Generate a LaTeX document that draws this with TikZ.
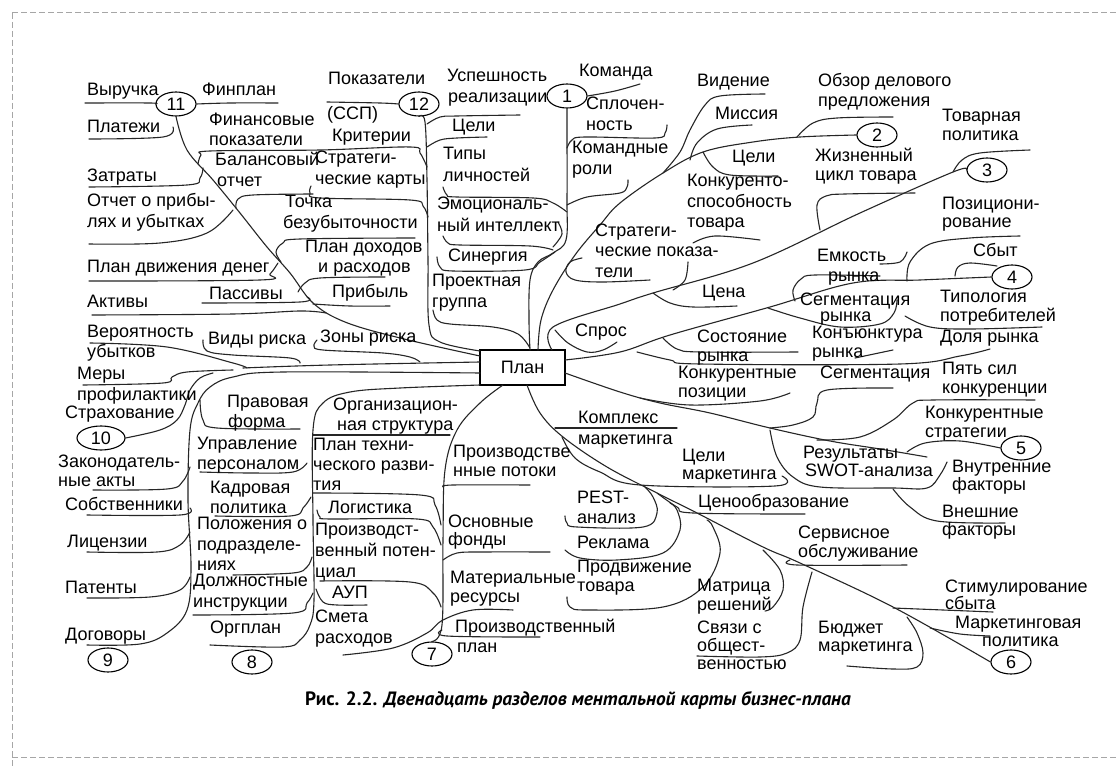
\documentclass[tikz,border=0pt]{standalone}
\usepackage{fontspec}
\setmainfont{Liberation Sans}
\newfontfamily\capfont{PT Sans}
\usetikzlibrary{shapes.geometric}
\newcounter{lbc}
\newcommand\lb[3]{\stepcounter{lbc}\node[lbl] (t\arabic{lbc}) at (#1,#2) {#3};}
\newcommand\cv[1]{\draw[ln] plot[smooth,tension=0.6] coordinates {#1};}
\begin{document}
\begin{tikzpicture}[x=1pt,y=-1pt,
  lbl/.style={anchor=base west,inner sep=0pt,font=\fontsize{18}{21}\selectfont},
  ln/.style={line width=1.1pt,line cap=round,line join=round,black!85},
  circ/.style={ellipse,draw,line width=1.1pt,minimum width=40pt,minimum height=24pt,inner sep=0pt,font=\fontsize{18}{21}\selectfont},
  frame/.style={gray!70,line width=1pt,dash pattern=on 6pt off 3pt}]
\useasboundingbox (0,0) rectangle (1117,767);
\fill[white] (0,0) rectangle (1117,767);
% frame
\draw[frame] (12,13) -- (1117,13);
\draw[frame] (12,13) -- (12,767);
\draw[frame] (12,757) -- (1117,757);

% central box and circles
\node[draw,line width=1.5pt,minimum width=85pt,minimum height=35pt,inner sep=0pt,font=\fontsize{18}{21}\selectfont] (plan) at (522.5,367.5) {План};
\node[circ] (c1) at (567,96) {1};
\node[circ] (c2) at (877,135) {2};
\node[circ] (c3) at (987,170) {3};
\node[circ] (c4) at (1012,277) {4};
\node[circ] (c5) at (1021,448) {5};
\node[circ] (c6) at (1011,662) {6};
\node[circ] (c7) at (432,654) {7};
\node[circ] (c8) at (252,662) {8};
\node[circ] (c9) at (108,660) {9};
\node[circ,minimum width=48pt] (c10) at (101,438) {10};
\node[circ] (c11) at (176,104) {11};
\node[circ] (c12) at (419,104) {12};

% ---------- trunks ----------
\cv{(c11.south) (187,150) (213,180) (240,213) (267,247) (290,273) (313,303) (345,322) (400,338) (480,356)}
\cv{(c12.south) (425,122) (427,180) (428,260) (429,325) (440,342) (480,351)}
\cv{(c1.south) (567,130) (567,200) (566,240) (553,253) (538,262) (530,280) (529,320) (530,350)}
\cv{(538,350) (541,320) (553,290) (575,255) (600,225) (620,203) (663,173) (703,152) (753,142) (800,137) (c2.west)}
\cv{(552,350) (553,327) (620,304) (653,293) (753,263) (860,213) (953,172) (c3.west)}
\cv{(565,360) (620,352) (670,335) (770,307) (853,283) (920,280) (c4.west)}
\cv{(565,373) (620,392) (660,403) (710,413) (770,428) (830,441) (880,449) (927,457)}
\cv{(527,385) (540,413) (563,437) (607,467) (657,493) (697,513) (763,547) (800,563) (893,607) (c6.west)}
\cv{(503,385) (480,403) (457,430) (445,470) (443,540) (442,625) (c7.north)}
\cv{(480,385) (400,388) (350,392) (323,403) (313,430) (313,520) (314,600) (310,625) (300,640) (283,647) (210,645)}
\cv{(480,373) (283,372) (233,377) (210,387) (198,403) (190,430) (188,500) (191,567) (187,610) (167,633) (140,644) (87,645)}
\cv{(480,362) (330,365) (243,368)}
\cv{(c10.east) (160,430) (177,420) (185,405) (190,390) (200,378) (213,373)}

% ---------- branch 11 ----------
\cv{(85,103) (150,103) (c11.west)}
\cv{(c11.east) (230,103) (278,103)}
\cv{(89,139) (163,137) (173,127)}
\cv{(198,164) (201,155) (210,151) (320,150) (410,147) (420,153) (427,167)}
\cv{(89,187) (187,185) (200,178) (203,168)}
\cv{(236,208) (238,199) (253,195) (313,194)}
\cv{(89,244) (160,243) (207,233) (233,210)}
\cv{(281,262) (276,252) (283,243) (300,239) (415,238)}
\cv{(89,281) (260,280) (270,274) (278,263)}
\cv{(298,292) (305,283) (320,278) (385,277)}
\cv{(313,304) (350,306) (390,306)}
\cv{(202,303) (300,302) (307,297)}
\cv{(92,315) (233,314) (300,311) (326,313)}

% ---------- branch 12 ----------
\cv{(327,102) (380,103) (c12.west)}
\cv{(427,124) (440,117) (457,116) (520,115)}
\cv{(427,147) (440,140) (457,138) (487,137)}
\cv{(428,217) (423,206) (410,200) (320,198) (310,193) (311,186)}

% ---------- branch 1 ----------
\cv{(c1.east) (615,91) (640,84)}
\cv{(567,148) (572,140) (585,137) (655,138) (665,133) (667,125)}
\cv{(567,205) (587,197) (620,193) (627,187) (628,180)}
\cv{(443,187) (447,195) (457,197) (533,198) (553,203) (567,212)}
\cv{(558,222) (562,234) (553,247)}
\cv{(443,236) (448,243) (460,245) (530,246) (553,250)}
\cv{(437,257) (440,267) (453,271) (525,270) (540,262) (555,252)}
\cv{(433,310) (437,320) (450,324) (493,327) (518,334) (530,348)}

% ---------- branch 2 / 3 ----------
\cv{(663,173) (680,152) (690,130) (705,105) (720,96) (765,94)}
\cv{(690,160) (697,143) (717,129) (752,125)}
\cv{(703,152) (713,167) (730,175) (778,176)}
\cv{(797,137) (813,123) (837,118) (893,117)}
\cv{(953,172) (962,160) (980,153) (1030,150)}
\cv{(820,230) (817,205) (826,196) (845,194) (915,193)}
\cv{(693,243) (715,236) (760,240)}
\cv{(582,258) (570,262) (566,272) (575,280) (603,282) (650,280)}
\cv{(688,262) (685,280) (673,290)}
\cv{(653,293) (670,303) (693,307) (737,306)}
\cv{(555,330) (568,343) (587,352) (603,350) (617,342)}

% ---------- branch 4 ----------
\cv{(907,281) (910,262) (930,244) (970,238) (1020,236)}
\cv{(955,276) (958,267) (970,263) (997,266)}
\cv{(795,301) (793,290) (801,279) (815,275) (880,276)}
\cv{(880,264) (900,262) (907,252)}
\cv{(768,308) (800,318) (840,327) (880,324) (894,313) (897,300)}
\cv{(905,316) (930,327) (970,329) (1042,327)}
\cv{(663,338) (677,349) (700,352) (798,352)}
\cv{(637,352) (670,360) (700,364) (900,364) (960,356) (990,349)}
\cv{(855,358) (893,350)}
\cv{(640,398) (690,405) (760,401) (790,393)}
\cv{(893,388) (827,390) (817,403) (813,417) (793,425) (770,428)}

% ---------- branch 5 ----------
\cv{(817,440) (860,437) (893,420) (913,403) (933,400) (1035,400)}
\cv{(907,452) (925,443) (960,441) (c5.west)}
\cv{(770,430) (777,457) (793,477) (820,487) (893,488) (927,488) (940,475) (947,462)}
\cv{(893,489) (910,507) (937,521) (1005,523)}
\cv{(562,437) (575,458) (600,472) (640,485) (775,486) (782,476)}
\cv{(555,428) (677,428)}
\cv{(657,493) (677,507) (693,513) (805,514)}
\cv{(790,560) (797,565) (907,565)}

% ---------- branch 6 ----------
\cv{(645,487) (653,497) (657,513) (643,527) (577,527) (567,523) (565,516)}
\cv{(670,503) (677,510) (680,530) (663,553) (617,560) (580,558) (565,550)}
\cv{(707,520) (713,527) (720,553) (703,587) (663,607) (587,610) (570,607) (567,597)}
\cv{(763,550) (780,570) (783,590) (773,607) (765,611)}
\cv{(812,572) (803,607) (800,640) (787,653) (760,657) (697,656)}
\cv{(907,617) (917,633) (923,653) (917,667) (893,669) (847,666)}
\cv{(893,608) (993,612)}
\cv{(930,628) (960,634) (990,636)}

% ---------- branch 7 ----------
\cv{(443,487) (453,485) (530,485)}
\cv{(443,560) (457,553) (483,552) (550,552)}
\cv{(343,655) (393,648) (427,633) (443,620) (473,610) (513,610)}
\cv{(442,630) (447,636) (540,637)}

% ---------- branch 8 ----------
\cv{(313,435) (450,435)}
\cv{(313,493) (420,495) (435,505) (441,525)}
\cv{(317,510) (320,517) (330,519) (417,519) (433,527) (441,545)}
\cv{(320,581) (410,582) (433,593) (441,607)}
\cv{(316,589) (323,602) (337,605) (367,605)}
\cv{(200,400) (203,420) (217,428) (300,429)}
\cv{(200,472) (250,473) (293,472) (307,463)}
\cv{(215,516) (290,516) (303,508) (311,497)}
\cv{(233,575) (293,573) (307,567) (312,557)}
\cv{(193,615) (293,613) (307,603) (313,593)}

% ---------- branch 9 / 10 ----------
\cv{(93,490) (167,489) (183,481) (190,467)}
\cv{(87,515) (180,515) (190,508)}
\cv{(87,552) (157,552) (180,545) (190,532)}
\cv{(87,598) (150,597) (180,590) (190,577)}
\cv{(90,343) (167,347) (233,363) (247,368)}
\cv{(203,340) (207,351) (233,355) (290,358) (300,363)}
\cv{(317,340) (314,346) (323,350) (383,353) (410,357) (420,362)}
\cv{(83,385) (163,383) (172,377) (187,372) (233,370)}

% ---------- labels ----------
% branch 11
\lb{87}{96}{Выручка}
\lb{202}{96}{Финплан}
\lb{87}{133}{Платежи}
\lb{209}{126}{Финансовые}
\lb{209}{146}{показатели}
\lb{215}{166}{Балансовый}
\lb{217}{187}{отчет}
\lb{87}{182}{Затраты}
\lb{87}{207}{Отчет о прибы-}
\lb{87}{228}{лях и убытках}
\lb{285}{208}{Точка}
\lb{283}{229}{безубыточности}
\lb{87}{273}{План движения денег}
\lb{305}{253}{План доходов}
\lb{318}{273}{и расходов}
\lb{332}{298}{Прибыль}
\lb{209}{300}{Пассивы}
\lb{87}{308}{Активы}
% branch 12
\lb{328}{85}{Показатели}
\lb{327}{120}{(ССП)}
\lb{332}{142}{Критерии}
\lb{315}{164}{Стратеги-}
\lb{315}{185}{ческие карты}
% branch 1
\lb{447}{82}{Успешность}
\lb{448}{103}{реализации}
\lb{579}{77}{Команда}
\lb{586}{110}{Сплочен-}
\lb{586}{131}{ность}
\lb{452}{132}{Цели}
\lb{443}{160}{Типы}
\lb{443}{182}{личностей}
\lb{572}{154}{Командные}
\lb{572}{175}{роли}
\lb{437}{210}{Эмоциональ-}
\lb{437}{232}{ный интеллект}
\lb{448}{262}{Синергия}
\lb{432}{287}{Проектная}
\lb{432}{308}{группа}
% branch 2/3
\lb{697}{87}{Видение}
\lb{715}{120}{Миссия}
\lb{818}{87}{Обзор делового}
\lb{818}{107}{предложения}
\lb{942}{122}{Товарная}
\lb{942}{141}{политика}
\lb{732}{163}{Цели}
\lb{815}{162}{Жизненный}
\lb{815}{181}{цикл товара}
\lb{687}{187}{Конкуренто-}
\lb{687}{208}{способность}
\lb{687}{228}{товара}
\lb{595}{237}{Стратеги-}
\lb{595}{257}{ческие показа-}
\lb{595}{278}{тели}
\lb{942}{210}{Позициони-}
\lb{942}{228}{рование}
% branch 4
\lb{973}{257}{Сбыт}
\lb{817}{262}{Емкость}
\lb{828}{282}{рынка}
\lb{702}{298}{Цена}
\lb{800}{306}{Сегментация}
\lb{820}{322}{рынка}
\lb{940}{303}{Типология}
\lb{940}{322}{потребителей}
\lb{575}{337}{Спрос}
\lb{697}{343}{Состояние}
\lb{697}{362}{рынка}
\lb{812}{339}{Конъюнктура}
\lb{812}{358}{рынка}
\lb{940}{343}{Доля рынка}
\lb{678}{378}{Конкурентные}
\lb{678}{397}{позиции}
\lb{820}{378}{Сегментация}
\lb{942}{375}{Пять сил}
\lb{942}{394}{конкуренции}
% branch 5
\lb{925}{418}{Конкурентные}
\lb{925}{437}{стратегии}
\lb{803}{458}{Результаты}
\lb{805}{476}{SWOT-анализа}
\lb{952}{472}{Внутренние}
\lb{952}{490}{факторы}
\lb{942}{517}{Внешние}
\lb{942}{535}{факторы}
\lb{578}{424}{Комплекс}
\lb{578}{444}{маркетинга}
\lb{682}{461}{Цели}
\lb{682}{479}{маркетинга}
\lb{698}{507}{Ценообразование}
\lb{798}{538}{Сервисное}
\lb{798}{557}{обслуживание}
% branch 6
\lb{577}{503}{PEST-}
\lb{577}{523}{анализ}
\lb{577}{548}{Реклама}
\lb{577}{572}{Продвижение}
\lb{577}{591}{товара}
\lb{697}{591}{Матрица}
\lb{697}{610}{решений}
\lb{697}{633}{Связи с}
\lb{697}{651}{общест-}
\lb{697}{669}{венностью}
\lb{818}{633}{Бюджет}
\lb{818}{651}{маркетинга}
\lb{945}{592}{Стимулирование}
\lb{945}{609}{сбыта}
\lb{955}{628}{Маркетинговая}
\lb{982}{646}{политика}
% branch 7
\lb{453}{457}{Производстве}
\lb{453}{476}{нные потоки}
\lb{448}{527}{Основные}
\lb{448}{545}{фонды}
\lb{450}{583}{Материальные}
\lb{450}{602}{ресурсы}
\lb{455}{632}{Производственный}
\lb{457}{652}{план}
% branch 8
\lb{333}{410}{Организацион-}
\lb{337}{430}{ная структура}
\lb{313}{450}{План техни-}
\lb{313}{470}{ческого разви-}
\lb{313}{490}{тия}
\lb{328}{513}{Логистика}
\lb{315}{535}{Производст-}
\lb{315}{556}{венный потен-}
\lb{315}{577}{циал}
\lb{332}{598}{АУП}
\lb{315}{622}{Смета}
\lb{315}{643}{расходов}
\lb{227}{407}{Правовая}
\lb{228}{427}{форма}
\lb{197}{449}{Управление}
\lb{197}{469}{персоналом}
\lb{210}{493}{Кадровая}
\lb{210}{513}{политика}
\lb{197}{529}{Положения о}
\lb{197}{550}{подразделе-}
\lb{197}{570}{ниях}
\lb{193}{586}{Должностные}
\lb{193}{607}{инструкции}
\lb{210}{633}{Оргплан}
% branch 9/10
\lb{87}{338}{Вероятность}
\lb{87}{358}{убытков}
\lb{208}{345}{Виды риска}
\lb{320}{343}{Зоны риска}
\lb{77}{380}{Меры}
\lb{77}{400}{профилактики}
\lb{65}{418}{Страхование}
\lb{58}{467}{Законодатель-}
\lb{58}{486}{ные акты}
\lb{65}{510}{Собственники}
\lb{67}{547}{Лицензии}
\lb{65}{593}{Патенты}
\lb{65}{640}{Договоры}

% caption
\node[anchor=base west,inner sep=0pt,font=\capfont\bfseries\fontsize{19.3}{23}\selectfont] (cap) at (305,705) {Рис. 2.2. \textit{Двенадцать разделов ментальной карты бизнес-плана}};
\end{tikzpicture}
\end{document}
